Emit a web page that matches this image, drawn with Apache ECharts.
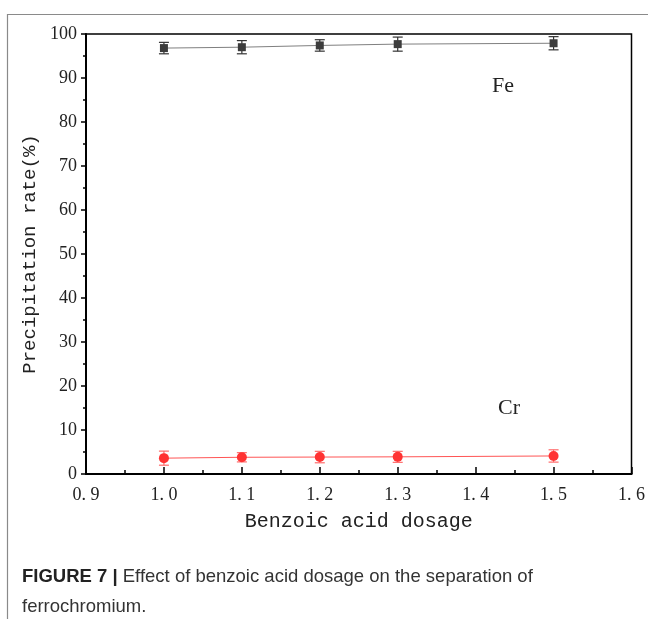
<!DOCTYPE html>
<html>
<head>
<meta charset="utf-8">
<script src="https://cdn.jsdelivr.net/npm/echarts@6/dist/echarts.min.js"></script>
<style>
  html, body { margin: 0; padding: 0; background: #fff; }
  #chart { width: 648px; height: 619px; }
</style>
</head>
<body>
<div id="chart"></div>
<script>
// Benzoic acid dosage vs. precipitation rate of Fe and Cr
const dosage = [1.0, 1.1, 1.2, 1.3, 1.5];
const feRate = [96.8, 97.0, 97.4, 97.7, 97.9];
const feErr  = [1.3, 1.5, 1.3, 1.6, 1.5];
const crRate = [3.6, 3.8, 3.85, 3.9, 4.1];
const crErr  = [1.6, 1.05, 1.3, 1.25, 1.4];

const serif = '"Liberation Serif", "DejaVu Serif", serif';
const mono = '"Liberation Mono", monospace';
const sans = '"Liberation Sans", Arial, sans-serif';

function pairs(xs, ys) { return xs.map((x, i) => [x, ys[i]]); }
function errData(xs, ys, es) { return xs.map((x, i) => [x, ys[i] - es[i], ys[i] + es[i]]); }

function errorBars(color) {
  return function (params, api) {
    const x = api.value(0);
    const lo = api.coord([x, api.value(1)]);
    const hi = api.coord([x, api.value(2)]);
    const hw = 5;
    const style = { stroke: color, lineWidth: 1.2 };
    return {
      type: 'group',
      children: [
        { type: 'line', shape: { x1: lo[0], y1: lo[1], x2: hi[0], y2: hi[1] }, style },
        { type: 'line', shape: { x1: lo[0] - hw, y1: lo[1], x2: lo[0] + hw, y2: lo[1] }, style },
        { type: 'line', shape: { x1: hi[0] - hw, y1: hi[1], x2: hi[0] + hw, y2: hi[1] }, style }
      ]
    };
  };
}

const chart = echarts.init(document.getElementById('chart'), null, { renderer: 'canvas' });

chart.setOption({
  backgroundColor: '#fff',
  animation: false,
  grid: {
    left: 86, right: 15, top: 34, bottom: 145,
    show: true, borderColor: '#000', borderWidth: 1.5, backgroundColor: 'transparent'
  },
  xAxis: {
    type: 'value', min: 0.9, max: 1.6, interval: 0.1,
    name: 'Benzoic acid dosage', nameLocation: 'middle', nameGap: 38,
    nameTextStyle: { fontFamily: mono, fontSize: 20, color: '#222' },
    axisLine: { lineStyle: { color: '#000', width: 2 } },
    axisTick: { inside: true, length: 7, lineStyle: { color: '#000', width: 1.5 } },
    minorTick: { show: true, splitNumber: 2, length: 4, lineStyle: { color: '#000', width: 1.5 } },
    splitLine: { show: false },
    axisLabel: {
      margin: 12, fontFamily: serif, fontSize: 18, color: '#222',
      formatter: v => v.toFixed(1).replace('.', '. ')
    }
  },
  yAxis: {
    type: 'value', min: 0, max: 100, interval: 10,
    name: 'Precipitation rate(%)', nameLocation: 'middle', nameGap: 44,
    nameTextStyle: { fontFamily: mono, fontSize: 19, color: '#222' },
    axisLine: { lineStyle: { color: '#000', width: 2 } },
    axisTick: { inside: false, length: 5, lineStyle: { color: '#000', width: 1.5 } },
    minorTick: { show: true, splitNumber: 2, length: 3, lineStyle: { color: '#000', width: 1.5 } },
    splitLine: { show: false },
    axisLabel: { margin: 9, fontFamily: serif, fontSize: 18, color: '#222' }
  },
  series: [
    {
      name: 'Fe', type: 'line', data: pairs(dosage, feRate),
      lineStyle: { color: '#808080', width: 1 },
      symbol: 'rect', symbolSize: 8,
      itemStyle: { color: '#3c3c3c' }, z: 3
    },
    {
      type: 'custom', data: errData(dosage, feRate, feErr),
      renderItem: errorBars('#333'), z: 2, silent: true
    },
    {
      name: 'Cr', type: 'line', data: pairs(dosage, crRate),
      lineStyle: { color: '#ff5555', width: 1 },
      symbol: 'circle', symbolSize: 10,
      itemStyle: { color: '#ff3333' }, z: 3
    },
    {
      type: 'custom', data: errData(dosage, crRate, crErr),
      renderItem: errorBars('#ff6b6b'), z: 2, silent: true
    }
  ],
  graphic: [
    {
      type: 'rect', left: 5, top: 12, silent: true, z: -10,
      shape: { width: 700, height: 700 },
      style: { fill: 'none', stroke: '#8a8a8a', lineWidth: 1.2 }
    },
    {
      type: 'text', left: 492, top: 75,
      style: { text: 'Fe', font: '22px ' + serif, fill: '#222' }
    },
    {
      type: 'text', left: 498, top: 397,
      style: { text: 'Cr', font: '22px ' + serif, fill: '#222' }
    },
    {
      type: 'text', left: 22, top: 567,
      style: {
        rich: {
          b: { fontFamily: sans, fontWeight: 'bold', fontSize: 18.5, fill: '#222' },
          n: { fontFamily: sans, fontSize: 18.5, fill: '#333' }
        },
        text: '{b|FIGURE 7 | }{n|Effect of benzoic acid dosage on the separation of}'
      }
    },
    {
      type: 'text', left: 22, top: 597,
      style: { text: 'ferrochromium.', font: '18.5px ' + sans, fill: '#333' }
    }
  ]
});
</script>
</body>
</html>
